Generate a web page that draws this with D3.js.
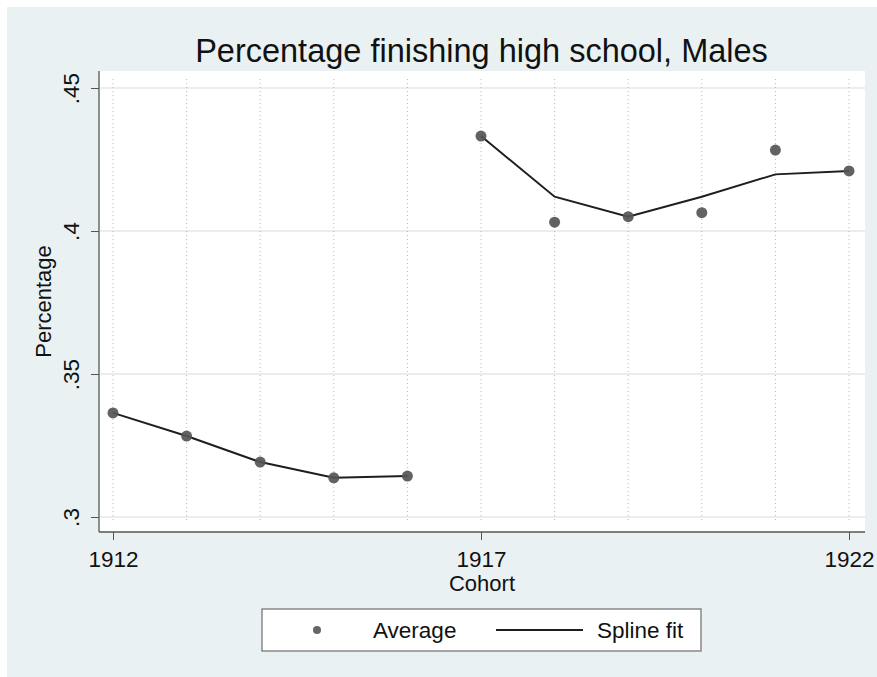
<!DOCTYPE html>
<html><head><meta charset="utf-8">
<script src="https://cdn.jsdelivr.net/npm/d3@7"></script>
<style>html,body{margin:0;padding:0;background:#fff;}svg{display:block;}</style>
</head><body>
<svg id="chart" width="877" height="677"></svg>
<script>
const years = [1912,1913,1914,1915,1916,1917,1918,1919,1920,1921,1922];
const average = [0.3364,0.3283,0.3192,0.3137,0.3143,0.4332,0.4031,0.4050,0.4064,0.4283,0.4210];
const splineYears1 = [1912,1913,1914,1915,1916];
const spline1 = [0.3364,0.3283,0.3192,0.3137,0.3143];
const splineYears2 = [1917,1918,1919,1920,1921,1922];
const spline2 = [0.4332,0.4120,0.4050,0.4120,0.4198,0.4210];
const xTicks = [1912,1917,1922];
const yTicks = [0.30,0.35,0.40,0.45];
const yTickLabels = [".3",".35",".4",".45"];
const titleText = "Percentage finishing high school, Males";
const xTitle = "Cohort";
const yTitle = "Percentage";
const legendLabels = ["Average","Spline fit"];

const font = "'Liberation Sans', Arial, sans-serif";
const svg = d3.select("#chart");
// outer background
svg.append("rect").attr("x",7).attr("y",7).attr("width",870).attr("height",670).attr("fill","#eaf1f3");

const plot = {l:99, r:865, t:71, b:532};
svg.append("rect").attr("x",plot.l).attr("y",plot.t).attr("width",plot.r-plot.l).attr("height",plot.b-plot.t).attr("fill","#fff");

const x = d3.scaleLinear().domain([1912,1922]).range([113,849]);
const y = d3.scaleLinear().domain([0.30,0.45]).range([517,88]);

// horizontal gridlines
svg.append("g").selectAll("line").data(yTicks).join("line")
  .attr("x1",plot.l+1).attr("x2",plot.r).attr("y1",d=>y(d)).attr("y2",d=>y(d))
  .attr("stroke","#e3e8ea").attr("stroke-width",1.5);
// vertical dotted gridlines
svg.append("g").selectAll("line").data(years).join("line")
  .attr("x1",d=>x(d)).attr("x2",d=>x(d)).attr("y1",79).attr("y2",522)
  .attr("stroke","#b8b8b8").attr("stroke-width",1).attr("stroke-dasharray","1,3");

// axes
const yAxis = d3.axisLeft(y).tickValues(yTicks).tickFormat((d,i)=>yTickLabels[i]).tickSize(8).tickPadding(0);
const gy = svg.append("g").attr("transform",`translate(${plot.l},0)`).call(yAxis);
gy.select(".domain").attr("d",`M0,${plot.t}V${plot.b}`).attr("stroke","#555").attr("stroke-width",1.3);
gy.selectAll(".tick line").attr("stroke","#555");
gy.selectAll(".tick text").attr("font-family",font).attr("font-size",22.5).attr("fill","#111")
  .attr("text-anchor","middle").attr("dy",0)
  .attr("transform","translate(-20,0) rotate(-90)").attr("x",0).attr("y",0);

const xAxis = d3.axisBottom(x).tickValues(xTicks).tickFormat(d3.format("d")).tickSize(8).tickPadding(0);
const gx = svg.append("g").attr("transform",`translate(0,${plot.b})`).call(xAxis);
gx.select(".domain").attr("d",`M${plot.l},0H${plot.r}`).attr("stroke","#555").attr("stroke-width",1.3);
gx.selectAll(".tick line").attr("stroke","#555");
gx.selectAll(".tick text").attr("font-family",font).attr("font-size",22.5).attr("fill","#111")
  .attr("y",34.5).attr("dy",0);

// titles
svg.append("text").attr("x",481.5).attr("y",62).attr("text-anchor","middle")
  .attr("font-family",font).attr("font-size",32.5).attr("fill","#111").text(titleText);
svg.append("text").attr("x",482).attr("y",591).attr("text-anchor","middle")
  .attr("font-family",font).attr("font-size",22).attr("fill","#111").text(xTitle);
svg.append("text").attr("transform",`translate(51,${(plot.t+plot.b)/2}) rotate(-90)`).attr("text-anchor","middle")
  .attr("font-family",font).attr("font-size",22).attr("fill","#111").text(yTitle);

// spline lines
const line = d3.line().x(d=>x(d[0])).y(d=>y(d[1]));
[[splineYears1,spline1],[splineYears2,spline2]].forEach(([ys,vs])=>{
  svg.append("path").datum(ys.map((yr,i)=>[yr,vs[i]])).attr("d",line)
    .attr("fill","none").attr("stroke","#1e1e1e").attr("stroke-width",2);
});
// points
svg.append("g").selectAll("circle").data(years.map((yr,i)=>[yr,average[i]])).join("circle")
  .attr("cx",d=>x(d[0])).attr("cy",d=>y(d[1])).attr("r",5.5).attr("fill","#555").attr("fill-opacity",0.92);

// legend
const lg = svg.append("g");
lg.append("rect").attr("x",262).attr("y",609).attr("width",439).attr("height",42)
  .attr("fill","#fff").attr("stroke","#777").attr("stroke-width",1.3);
lg.append("circle").attr("cx",317).attr("cy",630).attr("r",4).attr("fill","#666");
lg.append("text").attr("x",373).attr("y",638).attr("font-family",font).attr("font-size",22.5).attr("fill","#111").text(legendLabels[0]);
lg.append("line").attr("x1",496).attr("x2",583).attr("y1",630).attr("y2",630).attr("stroke","#1e1e1e").attr("stroke-width",2);
lg.append("text").attr("x",597).attr("y",638).attr("font-family",font).attr("font-size",22.5).attr("fill","#111").text(legendLabels[1]);
</script>
</body></html>
